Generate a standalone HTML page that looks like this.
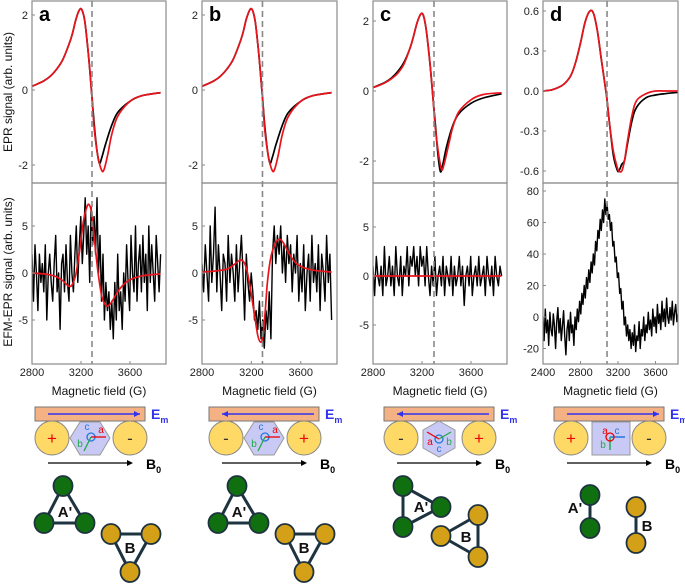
<!DOCTYPE html>
<html><head><meta charset="utf-8"><style>
body{margin:0;background:#fff}
svg{display:block;font-family:"Liberation Sans",sans-serif}
</style></head><body>
<svg id="fig" width="685" height="584" viewBox="0 0 685 584" xmlns="http://www.w3.org/2000/svg">
<text x="12" y="92" transform="rotate(-90 12 92)" text-anchor="middle" font-size="12" fill="#111">EPR signal (arb. units)</text>
<text x="12" y="272" transform="rotate(-90 12 272)" text-anchor="middle" font-size="12" fill="#111">EFM-EPR signal (arb. units)</text>
</svg>
<script>
// ---- data ----
const eprFieldA = [2800,2850,2900,2950,3000,3050,3100,3130,3160,3190,3210,3230,3250,3270,3290,3310,3330,3350,3370,3400,3450,3500,3600,3700,3850];
const eprBlackA = [0.1,0.17,0.25,0.37,0.55,0.8,1.2,1.5,1.9,2.15,2.12,1.85,1.3,0.6,-0.2,-1.0,-1.6,-1.95,-1.8,-1.45,-0.95,-0.6,-0.3,-0.15,-0.07];
const eprFitFieldA = [2800,2850,2900,2950,3000,3050,3100,3130,3160,3190,3210,3230,3250,3270,3290,3310,3340,3370,3390,3420,3450,3500,3600,3700,3850];
const eprRedA = [0.1,0.17,0.25,0.37,0.55,0.8,1.2,1.5,1.9,2.15,2.12,1.85,1.3,0.6,-0.2,-1.1,-1.8,-2.15,-2.1,-1.7,-1.2,-0.7,-0.3,-0.15,-0.07];
const eprBlackC = [0.1,0.17,0.25,0.37,0.55,0.8,1.2,1.55,1.95,2.2,2.17,1.85,1.3,0.6,-0.2,-1.0,-1.8,-2.3,-2.1,-1.6,-1.0,-0.65,-0.35,-0.2,-0.08];
const eprFitFieldC = [2800,2850,2900,2950,3000,3050,3100,3130,3160,3190,3210,3230,3250,3270,3290,3310,3340,3360,3380,3420,3450,3500,3600,3700,3850];
const eprRedC = [0.1,0.16,0.24,0.35,0.5,0.75,1.2,1.55,1.95,2.2,2.17,1.85,1.3,0.6,-0.2,-1.1,-1.9,-2.25,-2.1,-1.5,-1.05,-0.6,-0.25,-0.1,-0.05];
const eprFieldD = [2400,2500,2600,2650,2700,2750,2800,2850,2900,2940,2980,3020,3060,3080,3110,3150,3190,3210,3240,3270,3300,3350,3400,3500,3600,3700,3840];
const eprBlackD = [0.0,0.01,0.04,0.07,0.12,0.22,0.36,0.52,0.6,0.58,0.45,0.25,0.05,-0.05,-0.25,-0.48,-0.59,-0.6,-0.55,-0.52,-0.4,-0.22,-0.12,-0.05,-0.03,-0.02,-0.01];
const eprRedD = [0.0,0.01,0.04,0.07,0.12,0.22,0.36,0.52,0.6,0.58,0.45,0.25,0.05,-0.05,-0.25,-0.45,-0.57,-0.6,-0.6,-0.52,-0.38,-0.18,-0.07,-0.02,0.0,0.0,0.0];
const efmFitFieldA = [2800,2900,2950,3000,3050,3100,3130,3160,3190,3220,3250,3270,3290,3310,3340,3370,3400,3420,3450,3500,3550,3600,3700,3850];
const efmRedA = [0,-0.1,-0.2,-0.4,-0.8,-1.4,-1.2,0.0,2.5,5.5,7.1,7.2,6.2,3.5,0.0,-2.5,-3.4,-3.5,-3.1,-2.0,-1.2,-0.7,-0.3,-0.1];
const efmFitFieldB = [2800,2900,3000,3050,3100,3130,3160,3190,3220,3250,3270,3290,3310,3330,3360,3400,3430,3460,3500,3550,3600,3700,3850];
const efmRedB = [0.1,0.2,0.4,0.8,1.3,1.3,0.5,-1.5,-4.0,-6.5,-7.3,-7.0,-4.5,-1.0,1.8,3.3,3.6,3.2,2.2,1.2,0.7,0.3,0.1];
const efmFitFieldC = [2800,3850];
const efmRedC = [0,0];
const noiseRangeABC = [2800,3850];
const noiseRangeD = [2400,3840];
const efmBlackA = [2,-3,3,0,-4,2,-1,1,-2,3,-5,0,2,-1,-3,1,4,-2,0,-6,1,2,-2,3,-1,-3,4,0,-2,2,5,-1,3,6,1,4,8,2,5,-1,7,3,6,2,8,0,4,-3,2,-5,-1,-4,-2,-6,-3,-7,-1,-5,2,-4,-2,-6,0,-3,3,-1,-4,4,0,-2,5,-3,1,3,-2,4,-1,2,-4,5,-1,3,0,-3,4,1,-2,2];
const efmBlackB = [1,-2,3,0,-3,5,-1,2,7,-2,3,0,-4,2,1,-3,4,-1,2,0,-3,3,-2,1,4,0,-5,2,-1,-3,0,-2,-5,-4,-6,-3,-7,-5,-8,-4,-6,-2,-7,2,5,1,4,2,5,0,3,-1,4,1,3,-2,2,0,4,-3,1,-2,3,-4,0,2,-3,4,-1,1,-2,3,-4,2,0,-3,4,-1,2,-5];
const efmBlackC = [1,-2,2,0,-1,1,-2,3,-1,0,2,-1,1,-2,3,0,-1,2,-2,1,0,3,-1,2,1,3,0,2,-1,3,1,2,-1,3,0,-2,1,-1,2,-2,0,1,-1,2,-2,1,0,-1,2,-2,1,-1,0,2,-1,1,-3,0,1,-1,2,-2,0,1,-1,2,-1,0,1,-2,2,0,-1,1,-2,2,0,-1,1,0];
const efmBlackD = [0,-15,5,-10,-2,-18,3,-8,-12,2,-5,-20,-3,6,-10,-1,-15,-6,4,-12,-24,-8,-2,-15,3,-10,-5,-18,0,-8,5,-3,10,2,15,8,20,12,25,18,30,22,35,28,40,33,48,42,55,50,62,55,68,60,75,65,72,62,65,55,60,45,48,35,38,25,28,15,18,5,10,-5,0,-12,-5,-15,-8,-20,-10,-18,-5,-22,-12,-15,-3,-20,-8,-12,0,-15,-5,-10,3,-8,-2,-12,5,-6,0,-10,8,-4,2,-8,10,-3,5,-6,12,0,-4,6,-2,10,-5,3,8,-3,2];
const topTicksABC = [-2,0,2];
const topTicksD = [-0.6,-0.3,0.0,0.3,0.6];
const topTickLabelsD = ["-0.6","-0.3","0.0","0.3","0.6"];
const botTicksABC = [-5,0,5];
const botTicksD = [-20,0,20,40,60,80];
const xTicksABC = [2800,3200,3600];
const xTicksD = [2400,2800,3200,3600];

// ---- drawing ----
const NS="http://www.w3.org/2000/svg", svg=document.getElementById('fig');
function mk(tag,attrs,parent){const e=document.createElementNS(NS,tag);for(const k in attrs)e.setAttribute(k,attrs[k]);(parent||svg).appendChild(e);return e;}
function scale(d0,d1,r0,r1){return v=>r0+(v-d0)/(d1-d0)*(r1-r0);}
function line(xs,ys,sx,sy,color,w,name,g,smooth){
  const P=xs.map((x,i)=>[sx(x),sy(ys[i])]);
  let d='M'+P[0][0].toFixed(1)+','+P[0][1].toFixed(1);
  for(let i=1;i<P.length;i++){
    if(smooth){
      const p0=P[Math.max(0,i-2)],p1=P[i-1],p2=P[i],p3=P[Math.min(P.length-1,i+1)];
      const c1=[p1[0]+(p2[0]-p0[0])/6,p1[1]+(p2[1]-p0[1])/6],c2=[p2[0]-(p3[0]-p1[0])/6,p2[1]-(p3[1]-p1[1])/6];
      d+='C'+c1.map(v=>v.toFixed(1))+' '+c2.map(v=>v.toFixed(1))+' '+p2.map(v=>v.toFixed(1));
    } else d+='L'+P[i][0].toFixed(1)+','+P[i][1].toFixed(1);
  }
  const p=mk('path',{d:d,fill:'none',stroke:color,'stroke-width':w,'stroke-linejoin':'round'},g);
  
  
}
function spread(range,vals){const n=vals.length;return vals.map((v,i)=>range[0]+(range[1]-range[0])*i/(n-1));}
function axes(g,x0,x1,y0,y1,sy,ticks,labels,nameTag){
  const r=mk('rect',{x:x0,y:y0,width:x1-x0,height:y1-y0,fill:'none',stroke:'#8a8a8a','stroke-width':1.2},g);
  
  
  ticks.forEach((t,i)=>{
    const y=sy(t);
    mk('line',{x1:x0,x2:x0+3,y1:y,y2:y,stroke:'#8a8a8a'},g);
    const tx=mk('text',{x:x0-4,y:y+4,'text-anchor':'end','font-size':11,fill:'#222'},g);
    tx.textContent=labels?labels[i]:String(t);
    
    
  });
}
const panels=[
 {id:'a',x0:32,x1:166,f0:2800,f1:3894,dash:3290,top:[0,90,2,15],bot:[0,273,5,226],tt:topTicksABC,bt:botTicksABC,xt:xTicksABC,
  epr:[[eprFieldA,eprBlackA,'#000'],[eprFitFieldA,eprRedA,'#e8141c']],efm:[noiseRangeABC,efmBlackA],fit:[efmFitFieldA,efmRedA]},
 {id:'b',x0:202,x1:337,f0:2800,f1:3894,dash:3290,top:[0,90,2,15],bot:[0,273,5,226],tt:topTicksABC,bt:botTicksABC,xt:xTicksABC,
  epr:[[eprFieldA,eprBlackA,'#000'],[eprFitFieldA,eprRedA,'#e8141c']],efm:[noiseRangeABC,efmBlackB],fit:[efmFitFieldB,efmRedB]},
 {id:'c',x0:373,x1:507,f0:2800,f1:3894,dash:3298,top:[0,91,2,21],bot:[0,276,5,227],tt:topTicksABC,bt:botTicksABC,xt:xTicksABC,
  epr:[[eprFieldA,eprBlackC,'#000'],[eprFitFieldC,eprRedC,'#e8141c']],efm:[noiseRangeABC,efmBlackC],fit:[efmFitFieldC,efmRedC]},
 {id:'d',x0:543,x1:678,f0:2400,f1:3840,dash:3083,top:[0,91,0.6,11],bot:[0,317,80,191],tt:topTicksD,ttl:topTickLabelsD,bt:botTicksD,xt:xTicksD,
  epr:[[eprFieldD,eprBlackD,'#000'],[eprFieldD,eprRedD,'#e8141c']],efm:[noiseRangeD,efmBlackD],fit:null}
];
panels.forEach(P=>{
  const g=mk('g',{});
  
  
  const sx=scale(P.f0,P.f1,P.x0,P.x1);
  const syT=scale(P.top[0],P.top[2],P.top[1],P.top[3]);
  const syB=scale(P.bot[0],P.bot[2],P.bot[1],P.bot[3]);
  const clipT='ct'+P.id, clipB='cb'+P.id;
  const defs=mk('defs',{},g);
  mk('rect',{x:P.x0,y:1,width:P.x1-P.x0,height:182},mk('clipPath',{id:clipT},defs));
  mk('rect',{x:P.x0,y:183,width:P.x1-P.x0,height:181},mk('clipPath',{id:clipB},defs));
  const gt=mk('g',{'clip-path':'url(#'+clipT+')'},g), gb=mk('g',{'clip-path':'url(#'+clipB+')'},g);
  P.epr.forEach((s,i)=>line(s[0],s[1],sx,syT,s[2],1.7,i?'epr-fit-curve':'epr-measured-curve',gt,true));
  line(spread(P.efm[0],P.efm[1]),P.efm[1],sx,syB,'#000',1.4,'efm-epr-measured-curve',gb,false);
  if(P.fit) line(P.fit[0],P.fit[1],sx,syB,'#e8141c',1.7,'efm-epr-fit-curve',gb,true);
  axes(g,P.x0,P.x1,1,183,syT,P.tt,P.ttl,'epr-y-axis');
  axes(g,P.x0,P.x1,183,364,syB,P.bt,null,'efm-y-axis');
  const dl=mk('line',{x1:sx(P.dash),x2:sx(P.dash),y1:1,y2:364,stroke:'#888','stroke-width':1.6,'stroke-dasharray':'6,4'},g);
  
  
  P.xt.forEach(t=>{
    mk('line',{x1:sx(t),x2:sx(t),y1:364,y2:361,stroke:'#8a8a8a'},g);
    const tx=mk('text',{x:sx(t),y:376,'text-anchor':'middle','font-size':11,fill:'#222'},g);
    tx.textContent=t;
    
    
  });
  const xl=mk('text',{x:(P.x0+P.x1)/2,y:395,'text-anchor':'middle','font-size':12,fill:'#111'},g);
  xl.textContent='Magnetic field (G)';
  
  
  const pl=mk('text',{x:P.x0+7,y:21,'font-size':20,'font-weight':'bold',fill:'#000'},g);
  pl.textContent=P.id;
  
  
});

// ---- schematics ----
function schematic(off,signs,mid,lbl){
  const g=mk('g',{transform:'translate('+off+',0)'});
  
  
  mk('rect',{x:35,y:407,width:110,height:14,fill:'#f4b183',stroke:'#777','stroke-width':1},g);
  const ad=signs[0]==='+'?[48,140]:[140,48];
  mk('line',{x1:ad[0],y1:414,x2:ad[1],y2:414,stroke:'#3333ee','stroke-width':1.5},g);
  mk('path',{d:ad[1]>ad[0]?'M140,414 l-6,-3 v6z':'M48,414 l6,-3 v6z',fill:'#3333ee'},g);
  const em=mk('text',{x:151,y:419,'font-size':14,'font-weight':'bold',fill:'#3333ee'},g);
  em.innerHTML='E<tspan font-size="9" dy="4">m</tspan>';
  
  
  [[52,signs[0]],[130,signs[1]]].forEach(c=>{
    mk('ellipse',{cx:c[0],cy:438,rx:17,ry:17,fill:'#ffd966',stroke:'#888'},g);
    const t=mk('text',{x:c[0],y:444,'text-anchor':'middle','font-size':17,fill:c[1]==='+'?'#e00':'#333'},g);
    t.textContent=c[1];
    
    
  });
  if(mid==='rect'){
    mk('rect',{x:73,y:422,width:38,height:33,fill:'#c9c9f5',stroke:'#999'},g);
    mk('line',{x1:91,y1:437,x2:106,y2:437,stroke:'#2277dd','stroke-width':1.5},g);
    mk('line',{x1:91,y1:437,x2:91,y2:450,stroke:'#22aa44','stroke-width':1.5},g);
    mk('circle',{cx:91,cy:437,r:4,fill:'none',stroke:'#e00','stroke-width':1.3},g);
    [['a',86,434,'#e00'],['c',98,434,'#2277dd'],['b',84,448,'#22aa44']].forEach(a=>{const t=mk('text',{x:a[1],y:a[2],'font-size':10,fill:a[3],'text-anchor':'middle'},g);t.textContent=a[0];});
  } else if(mid==='pointy'){
    mk('polygon',{points:'90,421 106,430 106,448 90,457 74,448 74,430',fill:'#c9c9f5',stroke:'#999'},g);
    mk('circle',{cx:90,cy:439,r:4,fill:'none',stroke:'#2277dd','stroke-width':1.3},g);
    mk('line',{x1:90,y1:439,x2:78,y2:432,stroke:'#e00','stroke-width':1.3},g);
    mk('line',{x1:90,y1:439,x2:102,y2:432,stroke:'#22aa44','stroke-width':1.3},g);
    [['a',81,445,'#e00'],['b',100,445,'#22aa44'],['c',90,452,'#2277dd']].forEach(a=>{const t=mk('text',{x:a[1],y:a[2],'font-size':10,fill:a[3],'text-anchor':'middle'},g);t.textContent=a[0];});
  } else {
    mk('polygon',{points:'80,422 100,422 110,438 100,455 80,455 70,438',fill:'#c9c9f5',stroke:'#999'},g);
    mk('circle',{cx:91,cy:437,r:4,fill:'none',stroke:'#2277dd','stroke-width':1.3},g);
    mk('line',{x1:91,y1:437,x2:106,y2:437,stroke:'#e00','stroke-width':1.3},g);
    mk('line',{x1:91,y1:437,x2:84,y2:451,stroke:'#22aa44','stroke-width':1.3},g);
    [['c',87,430,'#2277dd'],['a',101,433,'#e00'],['b',80,447,'#22aa44']].forEach(a=>{const t=mk('text',{x:a[1],y:a[2],'font-size':10,fill:a[3],'text-anchor':'middle'},g);t.textContent=a[0];});
  }
  mk('line',{x1:48,y1:463,x2:128,y2:463,stroke:'#000','stroke-width':1.3},g);
  mk('path',{d:'M133,463 l-6,-3 v6z',fill:'#000'},g);
  const b0=mk('text',{x:146,y:469,'font-size':14,'font-weight':'bold',fill:'#000'},g);
  b0.innerHTML='B<tspan font-size="9" dy="4">0</tspan>';
  
  
  return g;
}
function cluster(g,pts,links,color,label,lx,ly,name){
  const cg=mk('g',{},g);
  
  
  links.forEach(l=>mk('line',{x1:pts[l[0]][0],y1:pts[l[0]][1],x2:pts[l[1]][0],y2:pts[l[1]][1],stroke:'#1e3340','stroke-width':3},cg));
  pts.forEach(p=>mk('ellipse',{cx:p[0],cy:p[1],rx:9.5,ry:10,fill:color,stroke:'#1e3340','stroke-width':1.8},cg));
  const t=mk('text',{x:lx,y:ly,'text-anchor':'middle','font-size':15,'font-weight':'bold',fill:'#111'},cg);
  t.textContent=label;
}
const G='#107010', Y='#d4a017', tri=[[0,1],[1,2],[2,0]];
[[0,['+','-'],'flat'],[174,['-','+'],'flat']].forEach(s=>{
  const g=schematic(s[0],s[1],s[2],s[0]?'b':'a');
  cluster(g,[[63,486],[44,523],[85,523]],tri,G,"A'",65,517,'cluster-a-prime');
  cluster(g,[[111,534],[151,534],[130,572]],tri,Y,'B',130,553,'cluster-b');
});
const gc=schematic(349,['-','+'],'pointy','c');
cluster(gc,[[54,486],[92,507],[54,527]],tri,G,"A'",72,512,'cluster-a-prime');
cluster(gc,[[129,515],[92,536],[129,557]],tri,Y,'B',117,542,'cluster-b');
const gd=schematic(519,['+','-'],'rect','d');
cluster(gd,[[71,495],[71,528]],[[0,1]],G,"A'",56,513,'cluster-a-prime');
cluster(gd,[[117,507],[117,543]],[[0,1]],Y,'B',128,531,'cluster-b');
</script>
</body></html>
